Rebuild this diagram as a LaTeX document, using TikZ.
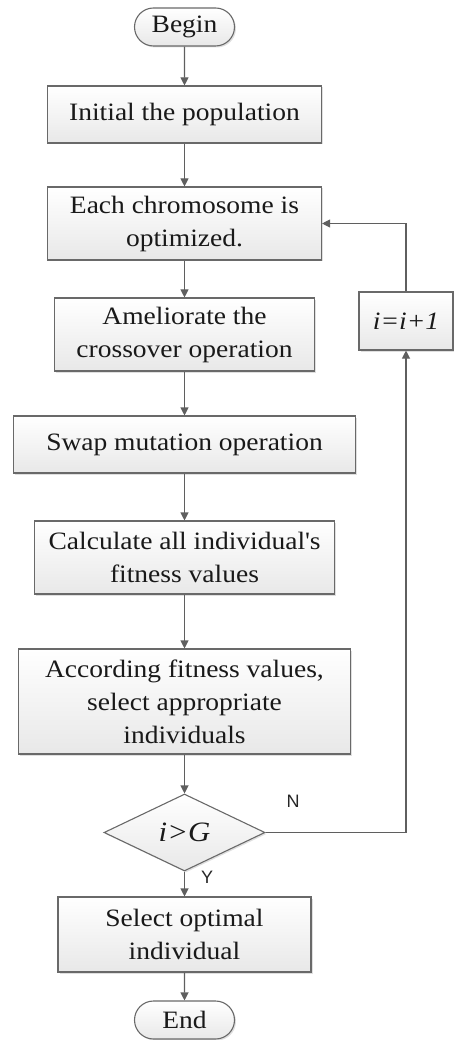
\documentclass[tikz,border=0pt]{standalone}
\usepackage{fontspec}
\setmainfont{Liberation Serif}[FakeStretch=1.1]
\newfontfamily\labfont{Liberation Sans}
\usetikzlibrary{shapes.geometric,shapes.misc,arrows.meta,shadows}
\definecolor{edgegray}{RGB}{105,105,105}
\definecolor{linegray}{RGB}{95,95,95}
\begin{document}
\begin{tikzpicture}[x=1pt,y=-1pt,
  every node/.style={font=\fontsize{25}{33}\selectfont, text=black!90},
  procbox/.style={draw=edgegray, line width=1.1pt, rectangle, top color=white, bottom color=black!9,
    drop shadow={shadow xshift=1.5pt,shadow yshift=-1.5pt,opacity=0.25}, align=center, inner sep=0pt},
  termbox/.style={procbox, rounded rectangle, minimum width=100pt, minimum height=38pt},
  decbox/.style={procbox, diamond, minimum width=161pt, minimum height=77pt},
  flow/.style={draw=linegray, line width=1.1pt, -{Triangle[width=8pt,length=8pt]}},
  yn/.style={font=\labfont\fontsize{18}{20}\selectfont, text=black!85, inner sep=0pt}
]
\useasboundingbox (0,0) rectangle (454,1040);
\node[termbox] (begin) at (184.5,27) {Begin};
\node[procbox, minimum width=274pt, minimum height=57pt] (init) at (184.5,114.5) {Initial the population};
\node[procbox, minimum width=274pt, minimum height=73pt] (chrom) at (184.5,223.5) {Each chromosome is\\optimized.};
\node[procbox, minimum width=260pt, minimum height=73pt] (amel) at (184.5,334.5) {Ameliorate the\\crossover operation};
\node[procbox, minimum width=342pt, minimum height=57pt] (swap) at (184.5,444.5) {Swap mutation operation};
\node[procbox, minimum width=300pt, minimum height=73pt] (calc) at (184.5,557.5) {Calculate all individual\textquotesingle s\\fitness values};
\node[procbox, minimum width=332pt, minimum height=105pt] (acc) at (184.5,701.5) {According fitness values,\\select appropriate\\individuals};
\node[decbox, font=\fontsize{28}{33}\selectfont] (dec) at (184.5,832.5) {\itshape i>G};
\node[procbox, minimum width=94pt, minimum height=58pt] (inc) at (406,321) {\itshape i=i+1};
\node[procbox, minimum width=253pt, minimum height=75pt] (sel) at (184.5,934.5) {Select optimal\\individual};
\node[termbox] (end) at (184.5,1020) {End};
\draw[flow] (begin) -- (init);
\draw[flow] (init) -- (chrom);
\draw[flow] (chrom) -- (amel);
\draw[flow] (amel) -- (swap);
\draw[flow] (swap) -- (calc);
\draw[flow] (calc) -- (acc);
\draw[flow] (acc) -- (dec);
\draw[flow] (dec) -- (sel);
\draw[flow] (sel) -- (end);
\draw[flow] (dec.east) -| (inc.south);
\draw[flow] (inc.north) |- (chrom.east);
\node[yn] (nlab) at (293,801) {N};
\node[yn] (ylab) at (207,877) {Y};
\end{tikzpicture}
\end{document}
